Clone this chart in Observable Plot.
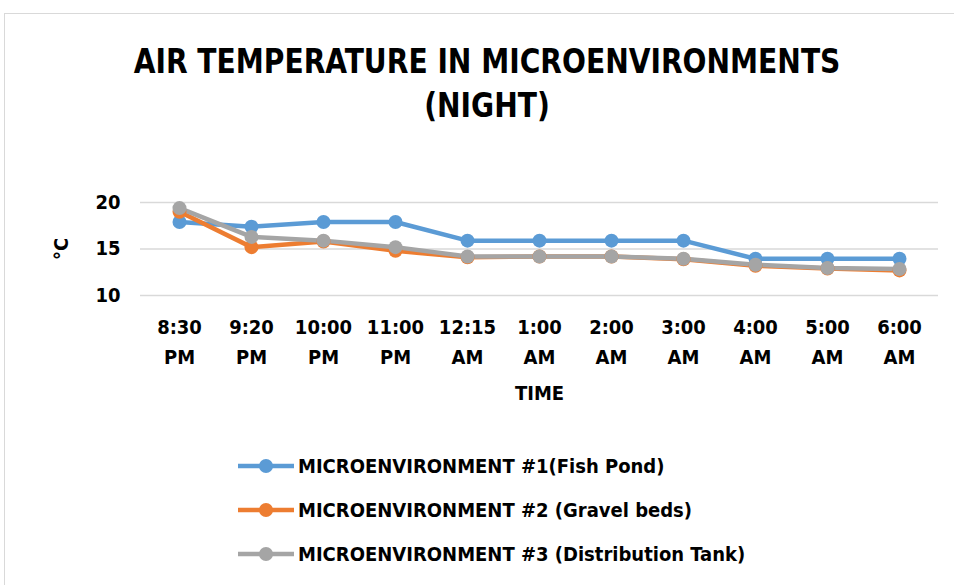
<!DOCTYPE html>
<html><head><meta charset="utf-8">
<script src="https://cdn.jsdelivr.net/npm/d3@7"></script>
<script src="https://cdn.jsdelivr.net/npm/@observablehq/plot@0.6"></script>
<style>
html,body{margin:0;padding:0;background:#fff;overflow:hidden;}
#wrap{position:relative;width:954px;height:585px;overflow:hidden;font-family:"DejaVu Sans Condensed","DejaVu Sans",sans-serif;font-stretch:condensed;font-weight:bold;color:#000;}
#frame{position:absolute;left:4px;top:13px;width:1000px;height:700px;border:1px solid #d9d9d9;box-sizing:border-box;}
#title{position:absolute;left:0;width:974px;top:39px;text-align:center;font-size:34px;line-height:44px;transform:scaleX(0.92);transform-origin:487px 0;}
#chart{position:absolute;left:0;top:170px;}
#legend{position:absolute;left:236px;top:444px;font-size:20px;}
.row{display:flex;align-items:center;height:44px;}
.row svg{margin-right:2px;}
svg text{font-stretch:condensed;}
</style></head>
<body><div id="wrap"><div id="frame"></div>
<div id="title">AIR TEMPERATURE IN MICROENVIRONMENTS<br>(NIGHT)</div>
<div id="chart"></div><div id="legend"></div></div>
<script>
const times = ["8:30 PM","9:20 PM","10:00 PM","11:00 PM","12:15 AM","1:00 AM","2:00 AM","3:00 AM","4:00 AM","5:00 AM","6:00 AM"];
const seriesNames = ["MICROENVIRONMENT #1(Fish Pond)","MICROENVIRONMENT #2 (Gravel beds)","MICROENVIRONMENT #3 (Distribution Tank)"];
const fishPond = [17.9,17.4,17.9,17.9,15.9,15.9,15.9,15.9,13.95,13.95,13.95];
const gravelBeds = [19.0,15.2,15.8,14.8,14.1,14.2,14.2,13.9,13.2,12.9,12.7];
const distTank = [19.4,16.3,15.9,15.2,14.2,14.2,14.2,13.95,13.3,12.95,12.85];
const colors = ["#5B9BD5","#ED7D31","#A5A5A5"];
const yTicks = [10,15,20];

const allSeries = [fishPond, gravelBeds, distTank];
const data = allSeries.flatMap((vals, s) => vals.map((v, i) => ({time: times[i], value: v, series: seriesNames[s]})));

const font = '"DejaVu Sans Condensed","DejaVu Sans",sans-serif';
const plot = Plot.plot({
  width: 954, height: 240,
  marginLeft: 140, marginRight: 16, marginTop: 32, marginBottom: 115,
  style: {fontFamily: font, fontWeight: "bold", fontSize: "20px", color: "#000", background: "transparent", fontStretch: "condensed"},
  x: {type: "point", domain: times, padding: 0.5},
  y: {domain: [10, 20]},
  color: {domain: seriesNames, range: colors},
  marks: [
    Plot.ruleY(yTicks, {stroke: "#d9d9d9", strokeWidth: 1.5}),
    Plot.axisY({ticks: yTicks, tickSize: 0, tickPadding: 20, label: "°C", labelAnchor: "center", labelArrow: "none", labelOffset: 87, fontSize: 20, fontWeight: "bold"}),
    Plot.axisX({tickSize: 0, tickPadding: 17, tickFormat: d => d.replace(" ", "\n"), lineHeight: 1.5, label: "TIME", labelAnchor: "center", labelArrow: "none", labelOffset: 104, fontSize: 20, fontWeight: "bold"}),
    Plot.line(data, {x: "time", y: "value", z: "series", stroke: "series", strokeWidth: 4.5}),
    Plot.dot(data, {x: "time", y: "value", fill: "series", r: 7})
  ]
});
document.getElementById("chart").appendChild(plot);

const legend = document.getElementById("legend");
seriesNames.forEach((name, i) => {
  const row = document.createElement("div");
  row.className = "row";
  row.innerHTML = `<svg width="60" height="16"><line x1="2" x2="58" y1="8" y2="8" stroke="${colors[i]}" stroke-width="4.5"/><circle cx="30" cy="8" r="7" fill="${colors[i]}"/></svg><span>${name}</span>`;
  legend.appendChild(row);
});
</script></body></html>
